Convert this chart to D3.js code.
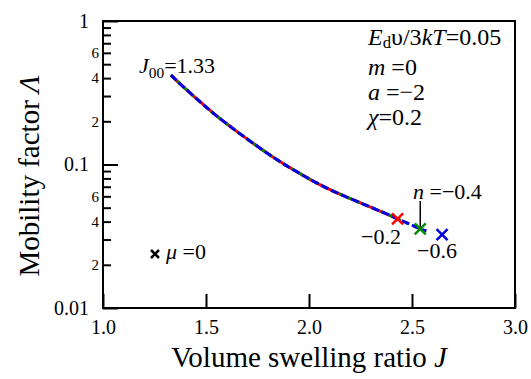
<!DOCTYPE html>
<html>
<head>
<meta charset="utf-8">
<script src="https://cdn.jsdelivr.net/npm/d3@7"></script>
<style>
  body { margin: 0; background: #fff; }
  svg { display: block; }
</style>
</head>
<body>
<div id="chart"></div>
<script>
// curve: volume swelling ratio J vs mobility factor
const curveJ = [1.33, 1.375, 1.47, 1.545, 1.66, 1.86, 1.96, 2.02, 2.15, 2.35, 2.43, 2.54, 2.57];
const curveL = [0.420, 0.363, 0.274, 0.221, 0.165, 0.103, 0.0862, 0.0762, 0.0617, 0.0472, 0.0418, 0.0356, 0.0344];

// each n stops at its own end point
const seriesN = ["-0.2", "-0.4", "-0.6"];
const seriesEnd = [2.43, 2.54, 2.57];
const seriesColor = ["#ff0000", "#008a00", "#0000e0"];

// the end marks (crosses)
const markJ = [2.43, 2.54, 2.646];
const markL = [0.0418, 0.0356, 0.0325];

const xTicks = [1.0, 1.5, 2.0, 2.5, 3.0];
const yMajor = [0.01, 0.1, 1];
const yMinor = [0.02, 0.03, 0.04, 0.05, 0.06, 0.07, 0.08, 0.09,
                0.2, 0.3, 0.4, 0.5, 0.6, 0.7, 0.8, 0.9];
const yMinorLabel = [0.02, 0.04, 0.06, 0.2, 0.4, 0.6];

const width = 531, height = 379;
const plotLeft = 103, plotRight = 515, plotTop = 21, plotBottom = 308;
const serif = "'Liberation Serif'";

const svg = d3.select("#chart").append("svg")
  .attr("width", width)
  .attr("height", height);

const x = d3.scaleLinear().domain([1, 3]).range([plotLeft, plotRight]);
const y = d3.scaleLog().domain([0.01, 1]).range([plotBottom, plotTop]);

// x axis, ticks pointing in
const xAxis = svg.append("g")
  .attr("transform", "translate(0," + plotBottom + ")")
  .call(d3.axisBottom(x).tickValues(xTicks).tickSize(-14).tickPadding(12).tickFormat(d3.format(".1f")));
xAxis.select(".domain").remove();
xAxis.selectAll("line").attr("stroke-width", 2);
xAxis.selectAll("text").attr("font-size", 20).attr("fill", "#000").style("font-family", serif);

// y axis majors
const yAxis = svg.append("g")
  .attr("transform", "translate(" + plotLeft + ",0)")
  .call(d3.axisLeft(y).tickValues(yMajor).tickSize(-15).tickPadding(14).tickFormat(d => String(d)));
yAxis.select(".domain").remove();
yAxis.selectAll("line").attr("stroke-width", 2);
yAxis.selectAll("text").attr("font-size", 20).attr("fill", "#000").style("font-family", serif);

// y axis minors, with 2/4/6 labels
const yAxisMinor = svg.append("g")
  .attr("transform", "translate(" + plotLeft + ",0)")
  .call(d3.axisLeft(y).tickValues(yMinor).tickSize(-8).tickPadding(4)
    .tickFormat(d => yMinorLabel.includes(d) ? String(Math.round(d / Math.pow(10, Math.floor(Math.log10(d) + 1e-9)))) : ""));
yAxisMinor.select(".domain").remove();
yAxisMinor.selectAll("line").attr("stroke-width", 2);
yAxisMinor.selectAll("text").attr("font-size", 15).attr("fill", "#000").style("font-family", serif);

// frame
svg.append("rect")
  .attr("x", plotLeft).attr("y", plotTop)
  .attr("width", plotRight - plotLeft).attr("height", plotBottom - plotTop)
  .attr("fill", "none").attr("stroke", "#000").attr("stroke-width", 2);

// curves
const line = d3.line()
  .x(d => x(d[0]))
  .y(d => y(d[1]))
  .curve(d3.curveBasis);

const dashes = [null, "4 5", "8 3"];
seriesN.forEach((n, i) => {
  const pts = curveJ.map((j, k) => [j, curveL[k]]).filter(p => p[0] <= seriesEnd[i] + 1e-9);
  svg.append("path")
    .datum(pts)
    .attr("d", line)
    .attr("fill", "none")
    .attr("stroke", seriesColor[i])
    .attr("stroke-width", 3)
    .attr("stroke-dasharray", dashes[i]);
});

// crosses at the ends
function cross(g, cx, cy, r, color, w) {
  g.append("path")
    .attr("d", `M${cx - r},${cy - r}L${cx + r},${cy + r}M${cx - r},${cy + r}L${cx + r},${cy - r}`)
    .attr("stroke", color)
    .attr("stroke-width", w)
    .attr("fill", "none");
}
markJ.forEach((j, i) => cross(svg, x(j), y(markL[i]), 5.5, seriesColor[i], 2.5));

// pointer from the n label to the green cross
svg.append("line")
  .attr("x1", x(markJ[1])).attr("x2", x(markJ[1]))
  .attr("y1", 201).attr("y2", y(markL[1]) - 2)
  .attr("stroke", "#000").attr("stroke-width", 1.5);

// labels
function rich(parts, px, py, size, anchor) {
  const t = svg.append("text")
    .attr("x", px).attr("y", py)
    .attr("font-size", size)
    .attr("text-anchor", anchor || "start")
    .attr("fill", "#000")
    .style("font-family", serif);
  parts.forEach(p => {
    const s = t.append("tspan").text(p.t);
    if (p.i) s.attr("font-style", "italic");
    if (p.sub) s.attr("font-size", size * 0.7).attr("dy", p.sub === true ? 5 : p.sub);
    if (p.up) s.attr("dy", p.up === true ? -5 : p.up);
  });
  return t;
}

rich([{t: "J", i: true}, {t: "00", sub: true}, {t: "=1.33", up: true}], 139, 73, 22);
rich([{t: "n", i: true}, {t: " =\u22120.4"}], 413, 199, 22);
rich([{t: "\u22120.2"}], 361, 244, 22);
rich([{t: "\u22120.6"}], 417, 258, 22);

// mu = 0 key
cross(svg, 155, 254, 4, "#000", 2.5);
rich([{t: "\u03bc", i: true}, {t: " =0"}], 166, 259, 22);

// parameter block
rich([{t: "E", i: true}, {t: "d", sub: 3}, {t: "\u03c5/3", up: -3}, {t: "kT", i: true}, {t: "=0.05"}], 368, 45, 24);
rich([{t: "m", i: true}, {t: " =0"}], 368, 75, 24);
rich([{t: "a", i: true}, {t: " =\u22122"}], 368, 100, 24);
rich([{t: "\u03c7", i: true}, {t: "=0.2"}], 368, 125, 24);

// axis titles
rich([{t: "Volume swelling ratio "}, {t: "J", i: true}], 309, 367, 29, "middle");
svg.append("text")
  .attr("transform", "translate(39,176) rotate(-90)")
  .attr("text-anchor", "middle")
  .attr("font-size", 29)
  .attr("fill", "#000")
  .style("font-family", serif)
  .call(t => {
    t.append("tspan").text("Mobility factor ");
    t.append("tspan").text("\u039b").attr("font-style", "italic");
  });
</script>
</body>
</html>
